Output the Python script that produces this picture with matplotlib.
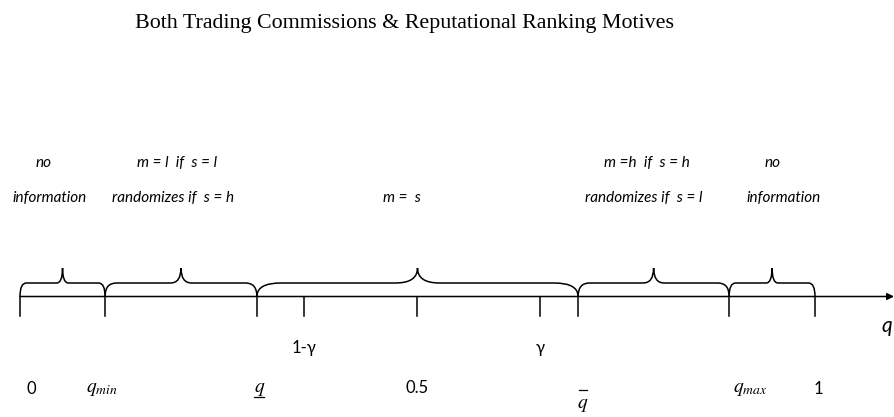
import numpy as np
import matplotlib.pyplot as plt
from matplotlib.path import Path
from matplotlib.patches import PathPatch

# region boundaries on the q line (0 .. 1)
bounds = [0.0, 0.107, 0.298, 0.702, 0.892, 1.0]
bound_labels = ["0", r"$q_{min}$", r"$q$", r"$q$", r"$q_{max}$", "1"]
bound_label_q = [0.014, 0.103, 0.301, 0.708, 0.918, 1.004]

# extra ticks between the boundaries
mid_ticks = [0.357, 0.5, 0.654]
mid_labels = ["1-γ", "0.5", "γ"]

# text above each brace (two lines)
region_top = ["no", "m = l  if  s = l", "", "m =h  if  s = h", "no"]
region_bottom = ["information", "randomizes if  s = h", "m =  s", "randomizes if  s = l", "information"]
region_text_q = [0.037, 0.193, 0.48, 0.785, 0.96]
region_top_q = [0.029, 0.198, 0.48, 0.789, 0.946]

title = "Both Trading Commissions & Reputational Ranking Motives"

PX = 795.0          # pixels per unit of q
AXIS_Y = 296.5
TICK_Y = 316
BRACE_Y = 283
TIP_Y = 268

plt.rcParams["mathtext.fontset"] = "stix"

fig = plt.figure(figsize=(8.95, 4.17), dpi=100)
ax = fig.add_axes([0, 0, 1, 1])
ax.set_xlim(-20 / PX, 875 / PX)
ax.set_ylim(417, 0)
ax.axis("off")


def brace(ax, q0, q1):
    w = (q1 - q0) * PX
    r = min(0.075 * w, 24) / PX
    t = min(0.07 * w, 22) / PX
    qm = (q0 + q1) / 2
    verts = [(q0, AXIS_Y), (q0, BRACE_Y), (q0 + r, BRACE_Y),
             (qm - t, BRACE_Y),
             (qm, BRACE_Y), (qm, TIP_Y),
             (qm, BRACE_Y), (qm + t, BRACE_Y),
             (q1 - r, BRACE_Y),
             (q1, BRACE_Y), (q1, AXIS_Y)]
    codes = [Path.MOVETO, Path.CURVE3, Path.CURVE3,
             Path.LINETO,
             Path.CURVE3, Path.CURVE3,
             Path.CURVE3, Path.CURVE3,
             Path.LINETO,
             Path.CURVE3, Path.CURVE3]
    ax.add_patch(PathPatch(Path(verts, codes), fill=False, lw=1.1, color="black"))


# axis line with arrow
ax.annotate("", xy=(874 / PX, AXIS_Y), xytext=(0, AXIS_Y),
            arrowprops=dict(arrowstyle="-|>", lw=1.1, color="black",
                            mutation_scale=10, shrinkA=0, shrinkB=0))
ax.text(867 / PX, 326, "q", fontsize=15, style="italic", family="Lato",
        ha="center", va="center")

for q in bounds + mid_ticks:
    ax.plot([q, q], [AXIS_Y, TICK_Y], color="black", lw=1.1)

for a, b in zip(bounds[:-1], bounds[1:]):
    brace(ax, a, b)

for i, (q, lab) in enumerate(zip(bound_label_q, bound_labels)):
    y = 404 if i == 3 else 389
    if lab.startswith("$"):
        ax.text(q, y, lab, fontsize=14, ha="center", va="center")
    else:
        ax.text(q, y, lab, fontsize=12, family="Lato", ha="center", va="center")
    if i == 2:
        # underline for the lower threshold
        ax.plot([q - 5 / PX, q + 5 / PX], [397, 397], color="black", lw=0.9)
    if i == 3:
        # bar over the upper threshold
        ax.plot([q - 4 / PX, q + 4 / PX], [390, 390], color="black", lw=0.9)

for q, lab in zip(mid_ticks, mid_labels):
    y = 388 if lab == "0.5" else 348
    ax.text(q, y, lab, fontsize=12, family="Lato", ha="center", va="center")

for q, lab in zip(region_top_q, region_top):
    ax.text(q, 163, lab, fontsize=11, style="italic", family="Lato",
            ha="center", va="center")
for q, lab in zip(region_text_q, region_bottom):
    ax.text(q, 198, lab, fontsize=11, style="italic", family="Lato",
            ha="center", va="center")

ax.text(385 / PX, 23, title, fontsize=15.8, family="Liberation Serif",
        ha="center", va="center")

fig.savefig("out.png", dpi=100)
